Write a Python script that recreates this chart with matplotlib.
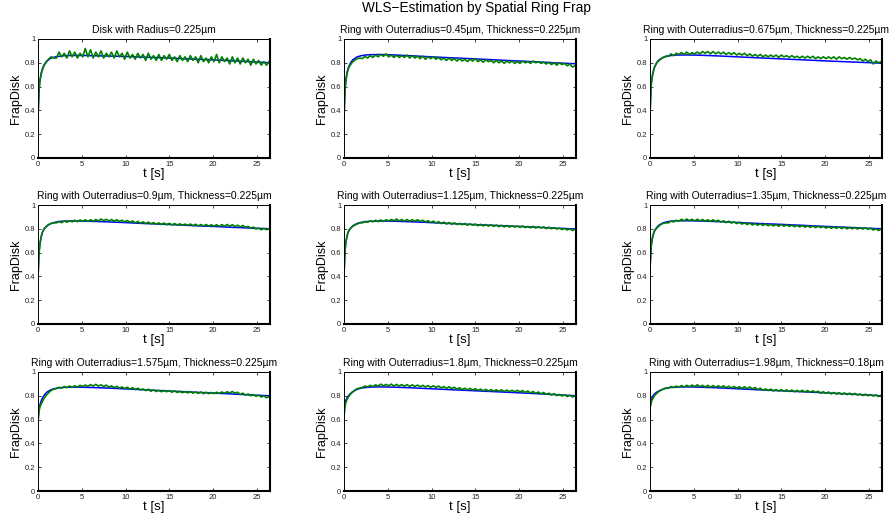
import numpy as np
import matplotlib
matplotlib.use("Agg")
import matplotlib.pyplot as plt
from matplotlib.ticker import FuncFormatter

plt.rcParams["font.family"] = ["Liberation Sans", "DejaVu Sans"]

# panel titles
titles = [
    "Disk with Radius=0.225µm",
    "Ring with Outerradius=0.45µm, Thickness=0.225µm",
    "Ring with Outerradius=0.675µm, Thickness=0.225µm",
    "Ring with Outerradius=0.9µm, Thickness=0.225µm",
    "Ring with Outerradius=1.125µm, Thickness=0.225µm",
    "Ring with Outerradius=1.35µm, Thickness=0.225µm",
    "Ring with Outerradius=1.575µm, Thickness=0.225µm",
    "Ring with Outerradius=1.8µm, Thickness=0.225µm",
    "Ring with Outerradius=1.98µm, Thickness=0.18µm",
]

# sample times of the measured data (early dense part + every 0.3 s)
t_early = [0, 0.1, 0.2, 0.35, 0.5, 0.7, 0.9, 1.2, 1.5, 1.8]
t_data = np.array(t_early + list(np.linspace(2.1, 26.4, 82)))

# measured FRAP curves (green)
data1 = [0.33, 0.55, 0.64, 0.70, 0.74, 0.78, 0.80, 0.83, 0.85, 0.84,
         0.84, 0.89, 0.85, 0.88, 0.84, 0.90, 0.85, 0.89, 0.84, 0.88,
         0.85, 0.92, 0.85, 0.91, 0.84, 0.89, 0.85, 0.90, 0.84, 0.88,
         0.85, 0.89, 0.84, 0.90, 0.85, 0.88, 0.83, 0.89, 0.84, 0.87,
         0.83, 0.88, 0.84, 0.87, 0.82, 0.88, 0.83, 0.86, 0.82, 0.87,
         0.82, 0.86, 0.83, 0.87, 0.82, 0.85, 0.81, 0.86, 0.82, 0.85,
         0.81, 0.86, 0.82, 0.85, 0.80, 0.86, 0.81, 0.84, 0.80, 0.85,
         0.81, 0.87, 0.80, 0.85, 0.81, 0.84, 0.79, 0.85, 0.80, 0.84,
         0.79, 0.84, 0.80, 0.83, 0.78, 0.83, 0.79, 0.82, 0.78, 0.81,
         0.78, 0.81]
data2 = [0.33, 0.55, 0.64, 0.71, 0.75, 0.78, 0.80, 0.82, 0.835, 0.84,
         0.835, 0.855, 0.84, 0.86, 0.845, 0.865, 0.85, 0.87, 0.855, 0.875,
         0.85, 0.865, 0.845, 0.865, 0.845, 0.86, 0.845, 0.865, 0.84, 0.86,
         0.84, 0.855, 0.835, 0.855, 0.83, 0.85, 0.835, 0.85, 0.83, 0.845,
         0.825, 0.84, 0.82, 0.84, 0.82, 0.835, 0.815, 0.835, 0.815, 0.83,
         0.81, 0.83, 0.815, 0.835, 0.81, 0.825, 0.805, 0.825, 0.81, 0.82,
         0.80, 0.82, 0.80, 0.815, 0.795, 0.815, 0.80, 0.815, 0.795, 0.81,
         0.795, 0.815, 0.80, 0.81, 0.795, 0.815, 0.80, 0.81, 0.795, 0.805,
         0.79, 0.805, 0.785, 0.80, 0.78, 0.80, 0.785, 0.795, 0.775, 0.79,
         0.765, 0.775]
data3 = [0.35, 0.58, 0.66, 0.72, 0.76, 0.79, 0.81, 0.83, 0.845, 0.855,
         0.855, 0.875, 0.86, 0.88, 0.87, 0.885, 0.87, 0.89, 0.87, 0.885,
         0.875, 0.89, 0.875, 0.895, 0.88, 0.895, 0.875, 0.895, 0.875, 0.89,
         0.875, 0.89, 0.87, 0.885, 0.87, 0.885, 0.865, 0.88, 0.865, 0.88,
         0.86, 0.875, 0.855, 0.87, 0.855, 0.87, 0.85, 0.865, 0.85, 0.865,
         0.85, 0.865, 0.845, 0.865, 0.85, 0.86, 0.845, 0.86, 0.845, 0.855,
         0.84, 0.855, 0.84, 0.855, 0.84, 0.855, 0.835, 0.85, 0.835, 0.85,
         0.835, 0.85, 0.835, 0.85, 0.83, 0.85, 0.835, 0.845, 0.83, 0.845,
         0.83, 0.84, 0.825, 0.835, 0.815, 0.83, 0.81, 0.825, 0.79, 0.815,
         0.80, 0.81]
data4 = [0.38, 0.58, 0.66, 0.73, 0.77, 0.80, 0.815, 0.835, 0.845, 0.85,
         0.85, 0.862, 0.852, 0.866, 0.855, 0.868, 0.858, 0.872, 0.86, 0.874,
         0.862, 0.875, 0.862, 0.876, 0.864, 0.878, 0.866, 0.882, 0.868, 0.88,
         0.866, 0.878, 0.864, 0.876, 0.862, 0.872, 0.858, 0.87, 0.855, 0.866,
         0.85, 0.862, 0.846, 0.858, 0.844, 0.856, 0.842, 0.852, 0.838, 0.85,
         0.836, 0.848, 0.834, 0.846, 0.832, 0.844, 0.832, 0.842, 0.83, 0.84,
         0.828, 0.84, 0.826, 0.838, 0.824, 0.836, 0.824, 0.836, 0.822, 0.834,
         0.822, 0.834, 0.82, 0.835, 0.822, 0.836, 0.822, 0.834, 0.82, 0.83,
         0.816, 0.828, 0.812, 0.82, 0.806, 0.814, 0.798, 0.806, 0.792, 0.804,
         0.792, 0.802]
data5 = [0.41, 0.60, 0.68, 0.74, 0.78, 0.80, 0.815, 0.83, 0.84, 0.85,
         0.85, 0.862, 0.855, 0.868, 0.858, 0.872, 0.86, 0.874, 0.862, 0.876,
         0.866, 0.878, 0.868, 0.882, 0.866, 0.878, 0.864, 0.878, 0.864, 0.876,
         0.864, 0.876, 0.862, 0.872, 0.858, 0.868, 0.852, 0.864, 0.848, 0.86,
         0.844, 0.856, 0.84, 0.852, 0.838, 0.85, 0.836, 0.846, 0.834, 0.845,
         0.83, 0.842, 0.83, 0.84, 0.826, 0.838, 0.824, 0.836, 0.822, 0.834,
         0.82, 0.832, 0.818, 0.83, 0.816, 0.828, 0.814, 0.826, 0.814, 0.824,
         0.812, 0.824, 0.81, 0.82, 0.808, 0.82, 0.806, 0.818, 0.806, 0.816,
         0.802, 0.814, 0.80, 0.81, 0.798, 0.806, 0.794, 0.804, 0.79, 0.80,
         0.786, 0.796]
data6 = [0.47, 0.62, 0.70, 0.75, 0.78, 0.80, 0.815, 0.835, 0.845, 0.85,
         0.85, 0.864, 0.858, 0.872, 0.864, 0.88, 0.866, 0.882, 0.868, 0.88,
         0.866, 0.88, 0.866, 0.878, 0.864, 0.876, 0.862, 0.876, 0.86, 0.872,
         0.856, 0.868, 0.852, 0.864, 0.848, 0.858, 0.844, 0.856, 0.84, 0.85,
         0.836, 0.848, 0.832, 0.844, 0.83, 0.842, 0.828, 0.84, 0.826, 0.838,
         0.824, 0.836, 0.822, 0.836, 0.822, 0.834, 0.82, 0.83, 0.818, 0.828,
         0.816, 0.828, 0.814, 0.826, 0.812, 0.824, 0.81, 0.822, 0.81, 0.82,
         0.806, 0.818, 0.804, 0.816, 0.804, 0.816, 0.802, 0.814, 0.80, 0.812,
         0.80, 0.812, 0.798, 0.81, 0.798, 0.808, 0.796, 0.806, 0.79, 0.80,
         0.786, 0.796]
data7 = [0.57, 0.66, 0.70, 0.73, 0.75, 0.78, 0.80, 0.825, 0.845, 0.855,
         0.86, 0.872, 0.864, 0.878, 0.868, 0.882, 0.872, 0.884, 0.874, 0.888,
         0.878, 0.89, 0.88, 0.894, 0.882, 0.896, 0.882, 0.892, 0.878, 0.89,
         0.872, 0.884, 0.868, 0.88, 0.864, 0.874, 0.86, 0.872, 0.856, 0.868,
         0.852, 0.864, 0.848, 0.858, 0.844, 0.856, 0.838, 0.85, 0.836, 0.846,
         0.834, 0.846, 0.834, 0.844, 0.83, 0.842, 0.828, 0.838, 0.826, 0.836,
         0.824, 0.836, 0.822, 0.832, 0.82, 0.832, 0.818, 0.83, 0.818, 0.828,
         0.818, 0.83, 0.82, 0.832, 0.822, 0.834, 0.824, 0.836, 0.822, 0.83,
         0.812, 0.822, 0.806, 0.816, 0.80, 0.81, 0.796, 0.806, 0.79, 0.80,
         0.784, 0.794]
data8 = [0.62, 0.70, 0.74, 0.77, 0.79, 0.81, 0.825, 0.845, 0.86, 0.865,
         0.87, 0.882, 0.874, 0.888, 0.878, 0.892, 0.882, 0.898, 0.884, 0.896,
         0.884, 0.898, 0.882, 0.896, 0.882, 0.894, 0.88, 0.894, 0.878, 0.892,
         0.878, 0.89, 0.876, 0.888, 0.874, 0.886, 0.872, 0.884, 0.87, 0.882,
         0.866, 0.878, 0.862, 0.876, 0.86, 0.872, 0.856, 0.868, 0.852, 0.864,
         0.85, 0.862, 0.848, 0.86, 0.846, 0.856, 0.842, 0.854, 0.84, 0.852,
         0.84, 0.85, 0.838, 0.85, 0.836, 0.848, 0.836, 0.846, 0.834, 0.846,
         0.832, 0.844, 0.828, 0.84, 0.824, 0.836, 0.82, 0.832, 0.816, 0.828,
         0.812, 0.822, 0.806, 0.818, 0.802, 0.812, 0.798, 0.808, 0.794, 0.804,
         0.79, 0.80]
data9 = [0.69, 0.73, 0.76, 0.78, 0.80, 0.815, 0.83, 0.845, 0.855, 0.865,
         0.864, 0.878, 0.868, 0.882, 0.872, 0.886, 0.874, 0.888, 0.876, 0.89,
         0.878, 0.892, 0.876, 0.888, 0.874, 0.888, 0.872, 0.886, 0.872, 0.884,
         0.87, 0.884, 0.868, 0.88, 0.866, 0.878, 0.864, 0.876, 0.862, 0.876,
         0.86, 0.874, 0.858, 0.87, 0.852, 0.864, 0.846, 0.858, 0.844, 0.856,
         0.84, 0.852, 0.84, 0.852, 0.838, 0.85, 0.836, 0.848, 0.834, 0.846,
         0.834, 0.846, 0.832, 0.844, 0.83, 0.842, 0.828, 0.838, 0.822, 0.834,
         0.82, 0.832, 0.816, 0.828, 0.814, 0.826, 0.812, 0.824, 0.81, 0.822,
         0.808, 0.82, 0.806, 0.816, 0.802, 0.814, 0.80, 0.81, 0.798, 0.808,
         0.794, 0.804]

# fitted model curves (blue)
t_fit = [0, 0.1, 0.2, 0.35, 0.5, 0.75, 1.0, 1.5, 2.0, 2.5, 3, 4, 5, 6,
         8, 10, 12, 15, 18, 20, 22, 24, 26.5]
fit1 = [0.33, 0.55, 0.64, 0.71, 0.75, 0.79, 0.815, 0.84, 0.85, 0.855, 0.86, 0.862,
        0.862, 0.86, 0.857, 0.853, 0.848, 0.84, 0.83, 0.825, 0.818, 0.81, 0.80]
fit2 = [0.33, 0.56, 0.65, 0.72, 0.76, 0.80, 0.825, 0.85, 0.86, 0.866, 0.868, 0.87,
        0.868, 0.865, 0.858, 0.85, 0.843, 0.833, 0.822, 0.815, 0.808, 0.80, 0.792]
fit3 = [0.35, 0.58, 0.66, 0.72, 0.76, 0.80, 0.823, 0.845, 0.857, 0.862, 0.865, 0.866,
        0.865, 0.863, 0.857, 0.85, 0.843, 0.833, 0.823, 0.816, 0.81, 0.804, 0.797]
fit4 = [0.38, 0.58, 0.66, 0.73, 0.77, 0.805, 0.825, 0.845, 0.856, 0.862, 0.865, 0.866,
        0.865, 0.863, 0.858, 0.852, 0.845, 0.836, 0.826, 0.82, 0.813, 0.807, 0.80]
fit5 = [0.40, 0.60, 0.68, 0.74, 0.775, 0.805, 0.825, 0.845, 0.855, 0.86, 0.863, 0.865,
        0.865, 0.863, 0.858, 0.852, 0.845, 0.835, 0.826, 0.82, 0.813, 0.806, 0.798]
fit6 = [0.45, 0.62, 0.69, 0.745, 0.78, 0.81, 0.83, 0.85, 0.86, 0.865, 0.867, 0.868,
        0.867, 0.865, 0.86, 0.853, 0.846, 0.837, 0.827, 0.82, 0.814, 0.807, 0.80]
fit7 = [0.60, 0.68, 0.72, 0.755, 0.78, 0.81, 0.83, 0.852, 0.862, 0.868, 0.871, 0.873,
        0.872, 0.87, 0.865, 0.858, 0.851, 0.84, 0.83, 0.823, 0.816, 0.808, 0.80]
fit8 = [0.68, 0.73, 0.76, 0.785, 0.80, 0.82, 0.835, 0.855, 0.865, 0.87, 0.873, 0.875,
        0.874, 0.872, 0.866, 0.859, 0.852, 0.842, 0.832, 0.825, 0.818, 0.81, 0.80]
fit9 = [0.70, 0.75, 0.78, 0.80, 0.815, 0.83, 0.84, 0.857, 0.866, 0.871, 0.873, 0.875,
        0.874, 0.872, 0.866, 0.859, 0.852, 0.842, 0.832, 0.825, 0.818, 0.81, 0.80]

datas = [data1, data2, data3, data4, data5, data6, data7, data8, data9]
fits = [fit1, fit2, fit3, fit4, fit5, fit6, fit7, fit8, fit9]

W, H = 891, 517
fig = plt.figure(figsize=(W / 100, H / 100), dpi=100)

lefts = [38, 344, 650]
tops = [39, 205, 372]
aw, ah = 232, 119

for i in range(9):
    r, c = divmod(i, 3)
    ax = fig.add_axes([lefts[c] / W, 1 - (tops[r] + ah) / H, aw / W, ah / H])
    ax.plot(t_fit, fits[i], color="#0000ff", lw=1.1)
    ax.plot(t_data, datas[i], color="#008000", lw=1.2)
    ax.set_xlim(0, 26.5)
    ax.set_ylim(0, 1)
    ax.set_xticks([0, 5, 10, 15, 20, 25])
    ax.set_yticks([0, 0.2, 0.4, 0.6, 0.8, 1])
    ax.yaxis.set_major_formatter(FuncFormatter(lambda v, p: "%g" % v))
    ax.tick_params(direction="in", length=2.5, width=0.6, labelsize=5.5,
                   top=True, right=True, pad=2, colors="#222222")
    for s in ["left", "top"]:
        ax.spines[s].set_linewidth(0.7)
    for s in ["right", "bottom"]:
        ax.spines[s].set_linewidth(1.5)
    ax.set_title(titles[i], fontsize=7.5, pad=4)
    ax.set_ylabel("FrapDisk", fontsize=9)
    ax.yaxis.set_label_coords(-0.068, 0.5)
    ax.set_xlabel("t [s]", fontsize=9.5)
    ax.xaxis.set_label_coords(0.5, -0.085)

fig.text(476 / W, 1 - 8 / H, "WLS\u2212Estimation by Spatial Ring Frap",
         ha="center", va="center", fontsize=9.8)

fig.savefig("out.png", dpi=100)
